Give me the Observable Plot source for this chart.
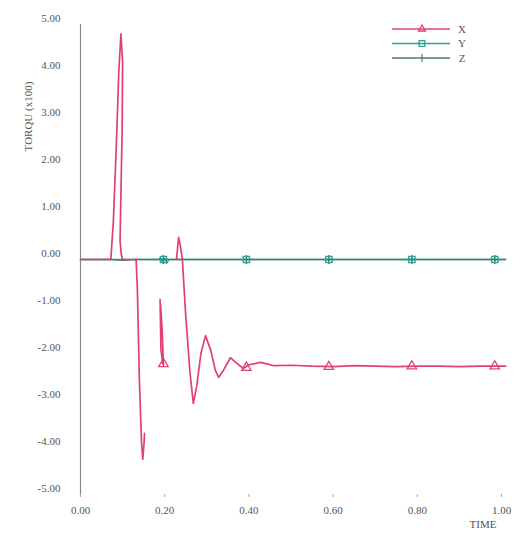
<!DOCTYPE html>
<html>
<head>
<meta charset="utf-8">
<script src="https://cdn.jsdelivr.net/npm/d3@7"></script>
<script src="https://cdn.jsdelivr.net/npm/@observablehq/plot@0.6"></script>
<style>
  html, body { margin: 0; padding: 0; background: #fff; }
  #chart svg { display: block; }
</style>
</head>
<body>
<div id="chart"></div>
<script>
// ---- data ----
const seriesNames = ["X", "Y", "Z"];
const seriesColors = ["#e23f78", "#2aa39a", "#4f7a64"];
const seriesSymbols = ["triangle", "square", "plus"];

// X torque (x100) vs time; NaN = pen-up gap in the plot
const xTime = [0, 0.05, 0.072, 0.078, 0.085, 0.091, 0.096, 0.1, 0.099, 0.096, 0.094, 0.097, 0.1, 0.12, 0.132, 0.135, 0.14, 0.145, 0.148, 0.151, 0.152,
  0.17,
  0.189, 0.191, 0.195, 0.197, 0.194, 0.19,
  0.21,
  0.228, 0.233, 0.237, 0.242, 0.25, 0.26, 0.268, 0.276, 0.286, 0.297, 0.31, 0.32, 0.328, 0.34, 0.356, 0.37, 0.387, 0.40, 0.428, 0.46, 0.5, 0.55, 0.6, 0.65, 0.7, 0.75, 0.8, 0.85, 0.9, 0.95, 1.01];
const xValue = [0, 0, 0, 0.8, 2.4, 4.0, 4.8, 4.2, 2.8, 1.4, 0.4, 0.1, 0, 0, 0, -0.6, -2.6, -3.9, -4.25, -3.9, -3.7,
  NaN,
  -0.85, -1.9, -2.2, -2.25, -1.5, -0.95,
  NaN,
  0, 0.47, 0.3, 0, -1.2, -2.4, -3.06, -2.7, -2.0, -1.62, -1.95, -2.35, -2.51, -2.35, -2.09, -2.2, -2.32, -2.24, -2.19, -2.26, -2.25, -2.27, -2.28, -2.26, -2.27, -2.28, -2.27, -2.27, -2.28, -2.27, -2.27];

// Y torque: near zero with a small wiggle around t = 0.2
const yTime = [0, 0.1, 0.185, 0.19, 0.195, 0.2, 0.205, 0.21, 0.3, 0.5, 0.7, 0.9, 1.01];
const yValue = [0, 0, 0, 0.04, -0.05, 0.03, -0.08, 0, 0, 0, 0, 0, 0];

// Z torque: near zero
const zTime = [0, 0.07, 0.1, 0.13, 0.2, 0.4, 0.6, 0.8, 1.01];
const zValue = [0, 0, -0.02, 0, 0, 0, 0, 0, 0];

// marker times (every ~0.197) and marker values per series
const markerTime = [0.197, 0.394, 0.59, 0.787, 0.984];
const xMarkerValue = [-2.22, -2.3, -2.28, -2.27, -2.27];
const yMarkerValue = [0, 0, 0, 0, 0];
const zMarkerValue = [0, 0, 0, 0, 0];

const xTicks = [0, 0.2, 0.4, 0.6, 0.8, 1.0];
const yTicks = [5, 4, 3, 2, 1, 0, -1, -2, -3, -4, -5];
const xAxisLabel = "TIME";
const yAxisLabel = "TORQU (x100)";

// ---- build tables ----
const toRows = (ts, vs) => ts.map((t, i) => ({t, v: vs[i]}));
const xRows = toRows(xTime, xValue);
const yRows = toRows(yTime, yValue);
const zRows = toRows(zTime, zValue);
const xMk = toRows(markerTime, xMarkerValue);
const yMk = toRows(markerTime, yMarkerValue);
const zMk = toRows(markerTime, zMarkerValue);

const fmt = v => v.toFixed(2);
const FONT = "'Liberation Serif', 'DejaVu Serif', serif";

const chart = Plot.plot({
  width: 530,
  height: 540,
  marginLeft: 80,
  marginRight: 29,
  marginTop: 24,
  marginBottom: 46,
  style: {fontFamily: FONT, fontSize: "11px", color: "#555", background: "#fff"},
  x: {domain: [0, 1], ticks: xTicks, tickFormat: fmt},
  y: {domain: [-5, 5], ticks: yTicks, tickFormat: fmt},
  marks: [
    Plot.axisX({ticks: xTicks, tickFormat: fmt, tickSize: 3, tickPadding: 9, label: null, stroke: "#aaa"}),
    Plot.axisY({ticks: yTicks, tickFormat: fmt, tickSize: 0, tickPadding: 20, dy: -6, label: null}),
    Plot.ruleX([0], {stroke: "#888", strokeWidth: 1.2}),
    Plot.line(yRows, {x: "t", y: "v", stroke: seriesColors[1], strokeWidth: 1.3}),
    Plot.line(zRows, {x: "t", y: "v", stroke: seriesColors[2], strokeWidth: 1.3}),
    Plot.line(xRows, {x: "t", y: "v", stroke: seriesColors[0], strokeWidth: 1.7, strokeLinejoin: "round", clip: false}),
    Plot.dot(zMk, {x: "t", y: "v", symbol: seriesSymbols[2], stroke: seriesColors[2], r: 3}),
    Plot.dot(yMk, {x: "t", y: "v", symbol: seriesSymbols[1], stroke: seriesColors[1], r: 3.5, strokeWidth: 1.4}),
    Plot.dot(xMk, {x: "t", y: "v", symbol: seriesSymbols[0], stroke: seriesColors[0], r: 3.5, strokeWidth: 1.3}),
    Plot.text([xAxisLabel], {frameAnchor: "bottom-right", dx: -5, dy: 33, textAnchor: "end", fill: "#555", fontSize: 11}),
    Plot.text([yAxisLabel], {frameAnchor: "top-left", dx: -56, dy: 92, rotate: -90, textAnchor: "middle", fill: "#555", fontSize: 11})
  ]
});

document.getElementById("chart").appendChild(chart);

// ---- legend (top-right, inside the SVG) ----
const svg = d3.select(chart);
const legend = svg.append("g").attr("transform", "translate(392,29)");
const symbolPath = {
  triangle: d3.symbol(d3.symbolTriangle2, 34)(),
  square: d3.symbol(d3.symbolSquare2, 40)(),
  plus: d3.symbol(d3.symbolPlus, 36)()
};
seriesNames.forEach((name, i) => {
  const g = legend.append("g").attr("transform", `translate(0,${i * 14.5})`);
  g.append("line").attr("x1", 0).attr("x2", 58).attr("y1", 0).attr("y2", 0)
    .attr("stroke", seriesColors[i]).attr("stroke-width", 1.4);
  if (i === 2) {
    g.append("line").attr("x1", 30).attr("x2", 30).attr("y1", -4).attr("y2", 4)
      .attr("stroke", seriesColors[i]).attr("stroke-width", 1.2);
  } else {
    g.append("path").attr("d", symbolPath[seriesSymbols[i]])
      .attr("transform", "translate(30,0)")
      .attr("fill", "none").attr("stroke", seriesColors[i]).attr("stroke-width", 1.3);
  }
  g.append("text").attr("x", 70).attr("y", 0).attr("dy", "0.35em")
    .attr("fill", "#555").attr("font-size", 11).attr("font-family", FONT)
    .text(name);
});
</script>
</body>
</html>
